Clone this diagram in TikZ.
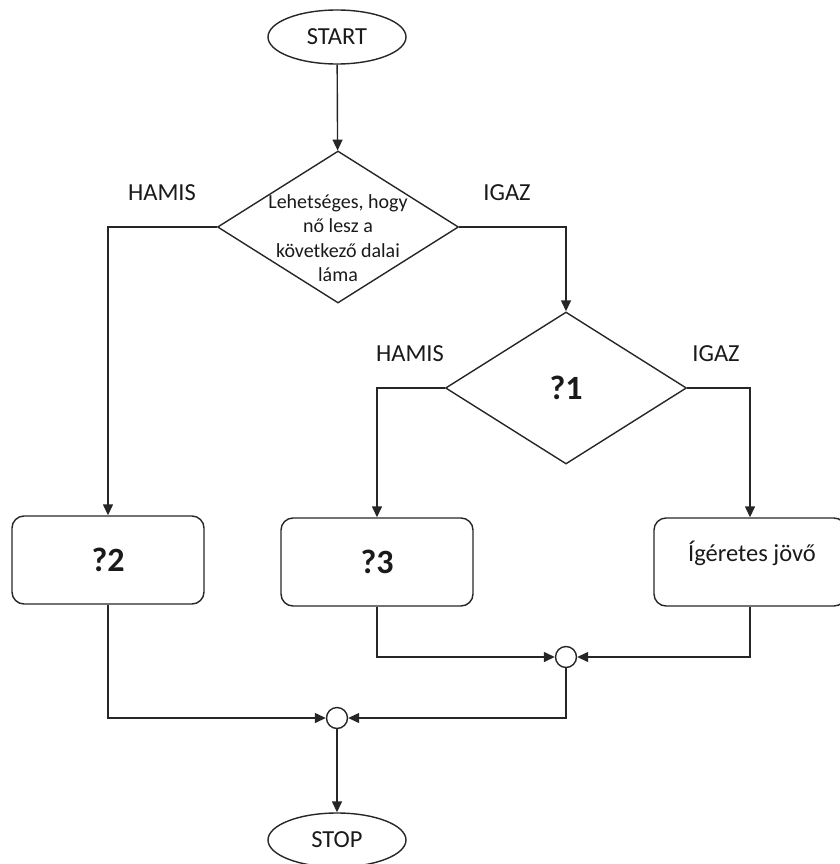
\documentclass[tikz,border=0pt]{standalone}
\usepackage{fontspec}
\setmainfont{Carlito}
\usepackage{tikz}
\usetikzlibrary{arrows.meta,shapes.geometric}
\definecolor{ink}{HTML}{1A1A1A}
\definecolor{edge}{HTML}{262626}

\begin{document}
\begin{tikzpicture}[x=1pt,y=-1pt,
  every node/.style={text=ink,font=\fontsize{24.5}{29}\selectfont},
  term/.style={draw=edge,line width=1.4pt,ellipse,inner sep=0pt,minimum width=138pt,minimum height=54pt},
  decision/.style={draw=edge,line width=1.4pt,diamond,inner sep=0pt,minimum width=241pt,minimum height=152pt},
  proc/.style={draw=edge,line width=1.4pt,rounded corners=12pt,inner sep=0pt,minimum width=192pt,minimum height=88pt},
  joint/.style={draw=edge,line width=1.4pt,circle,inner sep=0pt,minimum size=21pt},
  big/.style={font=\fontsize{34}{40}\selectfont\bfseries},
  flow/.style={draw=edge,line width=1.4pt,-{Triangle[length=11pt,width=10pt]}}]
\useasboundingbox (0,0) rectangle (839,864);

\node[term] (start) at (337,37) {START};
\node[decision] (d1) at (338,227) {};
\node[align=center,inner sep=0pt,font=\fontsize{20}{24.3}\selectfont] (d1txt) at (338,238)
  {Lehetséges, hogy\\ nő lesz a\\ következő dalai\\ láma};
\node[decision,big] (d2) at (566,388) {?1};
\node[proc,big] (p2) at (108,560) {?2};
\node[proc,big] (p3) at (377,562) {?3};
\node[proc] (p4) at (750,562) {};
\node[inner sep=0pt] (p4txt) at (752,553) {Ígéretes jövő};
\node[joint] (j1) at (566,657) {};
\node[joint] (j2) at (337,718) {};
\node[term] (stop) at (337,840) {STOP};

% branch labels
\node (h1) at (162,193) {HAMIS};
\node (i1) at (507,193) {IGAZ};
\node (h2) at (410,354) {HAMIS};
\node (i2) at (716,354) {IGAZ};

\draw[flow] (start) -- (d1);
\draw[flow] (d1.west) -| (p2.north);
\draw[flow] (d1.east) -| (d2.north);
\draw[flow] (d2.west) -| (p3.north);
\draw[flow] (d2.east) -| (p4.north);
\draw[flow] (p3.south) |- (j1.west);
\draw[flow] (p4.south) |- (j1.east);
\draw[flow] (j1.south) |- (j2.east);
\draw[flow] (p2.south) |- (j2.west);
\draw[flow] (j2) -- (stop);
\end{tikzpicture}
\end{document}
